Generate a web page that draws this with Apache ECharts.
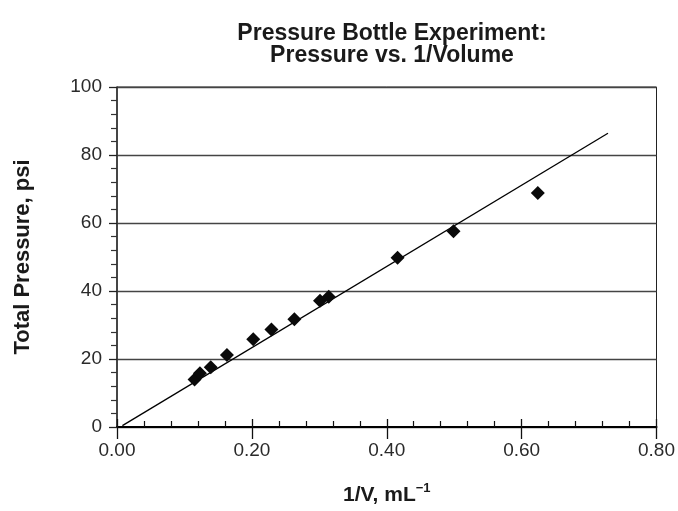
<!DOCTYPE html>
<html>
<head>
<meta charset="utf-8">
<script src="https://cdn.jsdelivr.net/npm/echarts@6/dist/echarts.min.js"></script>
<style>html,body{margin:0;padding:0;background:#fff;}#c{width:678px;height:511px;}</style>
</head>
<body>
<div id="c"></div>
<script>
// Data
const inverseVolume = [0.115, 0.123, 0.139, 0.163, 0.202, 0.229, 0.263, 0.301, 0.314, 0.416, 0.499, 0.624];
const totalPressure = [14.0, 15.8, 17.6, 21.2, 25.8, 28.7, 31.7, 37.1, 38.3, 49.8, 57.6, 68.8];
const trendX = [0.008, 0.728];
const trendY = [0.4, 86.4];
const titleLines = ['Pressure Bottle Experiment:', 'Pressure vs. 1/Volume'];

const points = inverseVolume.map((v, i) => [v, totalPressure[i]]);
const trend = trendX.map((v, i) => [v, trendY[i]]);

const FONT = '"Liberation Sans", Arial, sans-serif';
const chart = echarts.init(document.getElementById('c'), null, {renderer: 'canvas'});

const xCommon = {type: 'value', min: 0, max: 0.8, interval: 0.2, position: 'bottom'};
const yCommon = {type: 'value', min: 0, max: 100, interval: 20, position: 'left'};

chart.setOption({
  animation: false,
  backgroundColor: '#fff',
  title: {
    text: titleLines.join('\n'),
    left: 387, top: 18, textAlign: 'center',
    textStyle: {fontFamily: FONT, fontSize: 23, fontWeight: 'bold', color: '#1a1a1a', lineHeight: 22}
  },
  grid: {left: 117, right: 20, top: 87, bottom: 84, show: true, borderColor: '#222', borderWidth: 1, backgroundColor: 'transparent'},
  xAxis: [
    Object.assign({}, xCommon, {
      axisLine: {show: true, lineStyle: {color: '#000', width: 2}},
      axisTick: {show: true, inside: false, length: 12, lineStyle: {color: '#111', width: 1.3}},
      minorTick: {show: false},
      splitLine: {show: false},
      axisLabel: {margin: 14, fontFamily: FONT, fontSize: 19, color: '#2a2a2a', formatter: v => v.toFixed(2)},
      name: '{a|1/V, mL}{b|\u22121}',
      nameLocation: 'middle', nameGap: 55,
      nameTextStyle: {rich: {
        a: {fontFamily: FONT, fontSize: 21, fontWeight: 'bold', color: '#1a1a1a', verticalAlign: 'bottom'},
        b: {fontFamily: FONT, fontSize: 13, fontWeight: 'bold', color: '#1a1a1a', verticalAlign: 'top', padding: [0, 0, 11, 0]}
      }}
    }),
    Object.assign({}, xCommon, {
      axisLine: {show: false},
      axisTick: {show: true, inside: true, length: 8, lineStyle: {color: '#111', width: 1.3}},
      minorTick: {show: true, splitNumber: 5, length: 6, lineStyle: {color: '#111', width: 1.2}},
      splitLine: {show: false},
      axisLabel: {show: false}
    })
  ],
  yAxis: [
    Object.assign({}, yCommon, {
      axisLine: {show: true, lineStyle: {color: '#333', width: 1.6}},
      axisTick: {show: true, inside: false, length: 8, lineStyle: {color: '#222', width: 1.3}},
      minorTick: {show: false},
      splitLine: {show: true, lineStyle: {color: '#444', width: 1.3}},
      axisLabel: {margin: 15, fontFamily: FONT, fontSize: 19, color: '#2a2a2a'},
      name: 'Total Pressure, psi',
      nameLocation: 'middle', nameGap: 83, nameRotate: 90,
      nameTextStyle: {fontFamily: FONT, fontSize: 22, fontWeight: 'bold', color: '#1a1a1a'}
    }),
    Object.assign({}, yCommon, {
      axisLine: {show: false},
      axisTick: {show: false},
      minorTick: {show: true, splitNumber: 5, length: 6, lineStyle: {color: '#333', width: 1.2}},
      splitLine: {show: false},
      axisLabel: {show: false}
    })
  ],
  series: [
    {
      type: 'line', data: trend, xAxisIndex: 0, yAxisIndex: 0,
      showSymbol: false, symbol: 'none',
      lineStyle: {color: '#000', width: 1.3}, z: 2
    },
    {
      type: 'scatter', data: points, xAxisIndex: 0, yAxisIndex: 0,
      symbol: 'diamond', symbolSize: 14,
      itemStyle: {color: '#0a0a0a', opacity: 1}, z: 3
    }
  ]
});
</script>
</body>
</html>
